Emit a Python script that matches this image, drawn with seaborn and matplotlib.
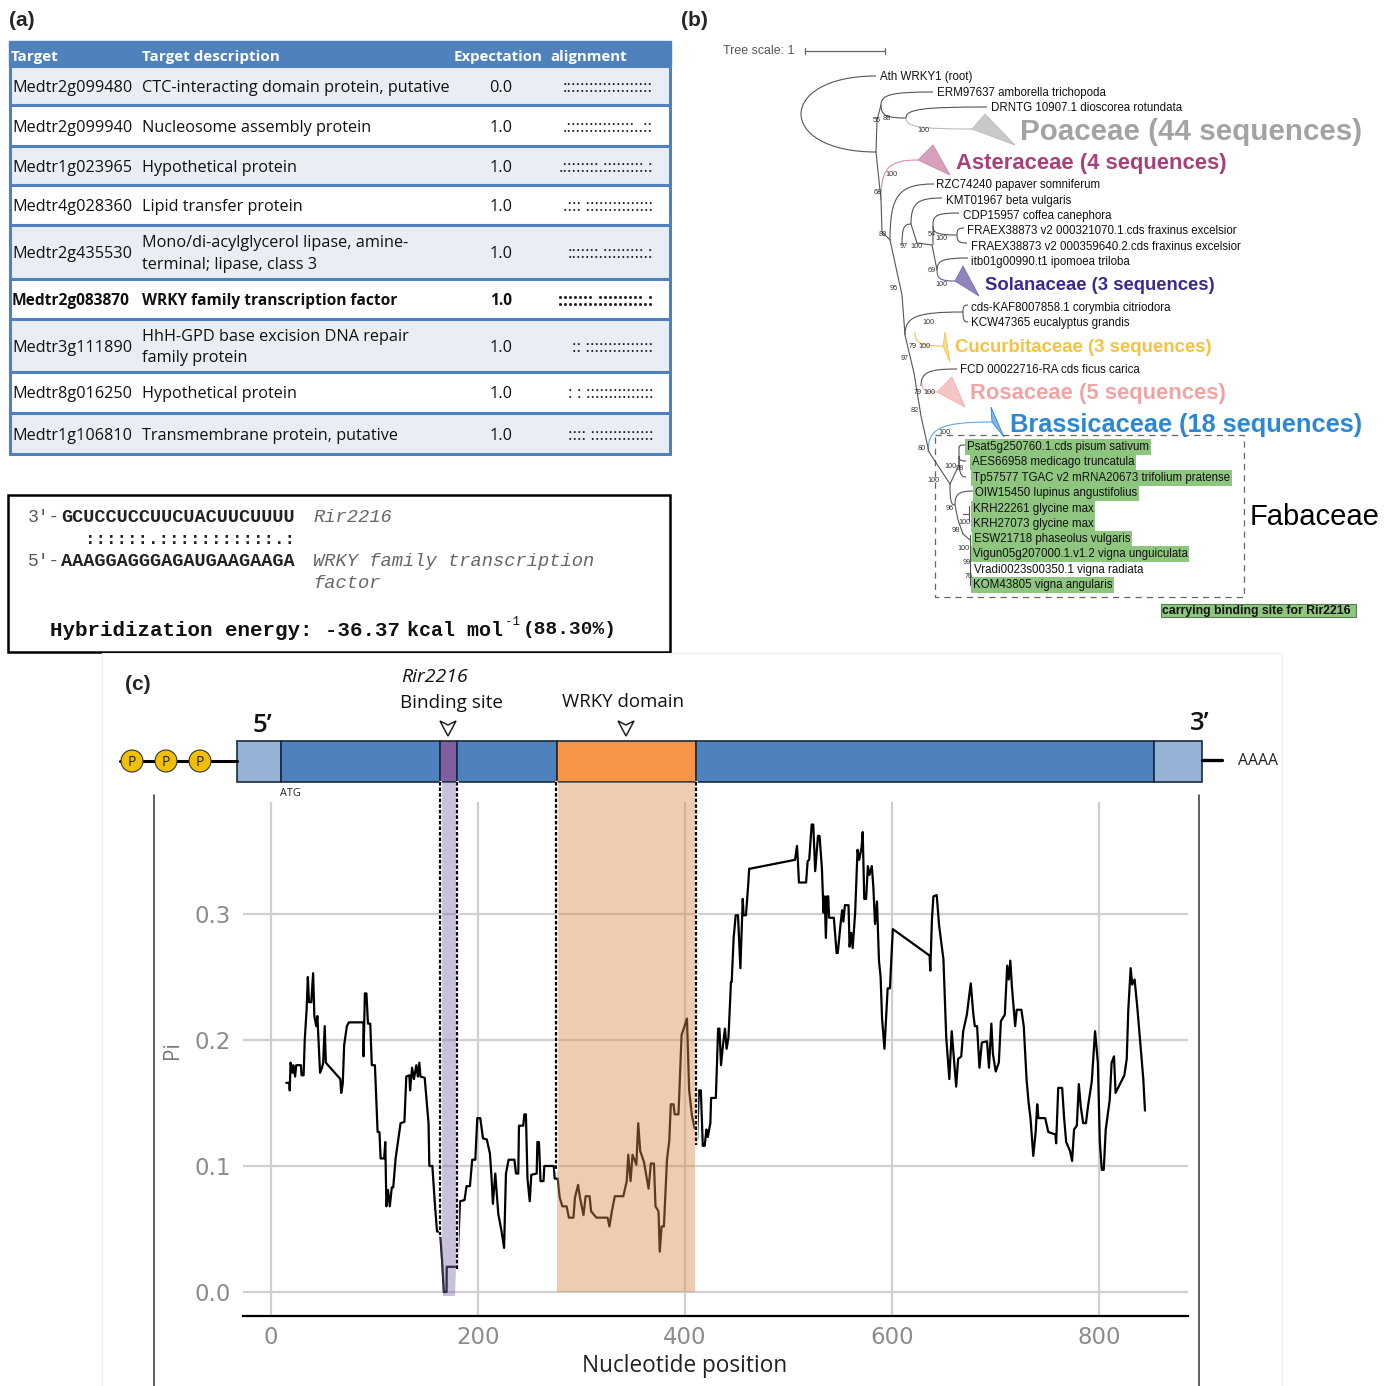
import numpy as np
import pandas as pd
import seaborn as sns
import matplotlib.pyplot as plt
from matplotlib.patches import Rectangle, Circle, Polygon, PathPatch
from matplotlib.path import Path

# table in panel (a)
targets = ['Medtr2g099480', 'Medtr2g099940', 'Medtr1g023965', 'Medtr4g028360', 'Medtr2g435530',
           'Medtr2g083870', 'Medtr3g111890', 'Medtr8g016250', 'Medtr1g106810']
descriptions = ['CTC-interacting domain protein, putative', 'Nucleosome assembly protein',
                'Hypothetical protein', 'Lipid transfer protein',
                'Mono/di-acylglycerol lipase, amine-\nterminal; lipase, class 3',
                'WRKY family transcription factor',
                'HhH-GPD base excision DNA repair\nfamily protein',
                'Hypothetical protein', 'Transmembrane protein, putative']
expectations = ['0.0', '1.0', '1.0', '1.0', '1.0', '1.0', '1.0', '1.0', '1.0']
alignments = ['::::::::::::::::::::', '.:::::::::::::::..::', '.::::::::.:::::::::.:', '.::: :::::::::::::::',
              ':::::::.:::::::::.:', ':::::::.:::::::::.:', ':: :::::::::::::::', ': : :::::::::::::::',
              ':::: ::::::::::::::']

# tree labels in panel (b)
tree_names = ['Ath WRKY1 (root)', 'ERM97637 amborella trichopoda', 'DRNTG 10907.1 dioscorea rotundata',
              'RZC74240 papaver somniferum', 'KMT01967 beta vulgaris', 'CDP15957 coffea canephora',
              'FRAEX38873 v2 000321070.1.cds fraxinus excelsior', 'FRAEX38873 v2 000359640.2.cds fraxinus excelsior',
              'itb01g00990.t1 ipomoea triloba', 'cds-KAF8007858.1 corymbia citriodora', 'KCW47365 eucalyptus grandis',
              'FCD 00022716-RA cds ficus carica']
fabaceae_names = ['Psat5g250760.1.cds pisum sativum', 'AES66958 medicago truncatula',
                  'Tp57577 TGAC v2 mRNA20673 trifolium pratense', 'OIW15450 lupinus angustifolius',
                  'KRH22261 glycine max', 'KRH27073 glycine max', 'ESW21718 phaseolus vulgaris',
                  'Vigun05g207000.1.v1.2 vigna unguiculata', 'Vradi0023s00350.1 vigna radiata',
                  'KOM43805 vigna angularis']
clades = ['Poaceae (44 sequences)', 'Asteraceae (4 sequences)', 'Solanaceae (3 sequences)',
          'Cucurbitaceae (3 sequences)', 'Rosaceae (5 sequences)', 'Brassicaceae (18 sequences)']

# nucleotide diversity curve in panel (c)
position = [14.8, 17.8, 18.1, 18.9, 20.7, 21.5, 23.3, 24.4, 28.9, 29.6, 31.5, 32.6, 34.4, 35.6, 36.7, 38.9, 40.7,
            41.9, 43.7, 44.8, 46.3, 47.4, 49.3, 50.4, 51.9, 53, 67, 67.8, 69.3, 70.7, 73.3, 75.2, 89.3, 89.4, 90.7,
            92.2, 93.7, 95.9, 97.4, 100.4, 103, 104.8, 105.9, 109.3, 110.4, 111.5, 113, 114.8, 116.7, 118.1, 120.4,
            125.2, 128.9, 130.7, 133.7, 134.4, 136.3, 138.1, 140.4, 141.9, 143.3, 144.4, 148.5, 152.2, 153, 155.9,
            158.5, 160.4, 163.3, 165.2, 167, 169.6, 169.8, 179.6, 180.7, 182.6, 187, 188.9, 192.2, 194.4, 197.4,
            199.3, 202.2, 204.8, 208.5, 211.5, 213, 214.4, 216.7, 219.6, 222.6, 225.2, 227, 229.6, 235.2, 236.7,
            238.9, 239.6, 243.7, 244.8, 246.3, 247.8, 250, 251.5, 256.7, 257.4, 258.9, 260.4, 263.3, 264.1, 273.3,
            274.1, 277, 278.9, 281.5, 285.6, 287.8, 292.2, 293.7, 296.7, 298.5, 301.9, 304, 307.8, 309.3, 314.4,
            325.2, 327, 329.3, 332.2, 340.4, 343.7, 345.2, 347.4, 349.3, 353, 354.8, 356.7, 360.4, 364.8, 367, 370,
            371.5, 374.4, 375.6, 377.4, 379.6, 382.6, 384.8, 386.3, 388.9, 390, 393.7, 396.7, 400.4, 401.9, 404,
            406.7, 409.3, 410.7, 411.5, 413.4, 415.3, 417.2, 419, 420.7, 422, 424.5, 425.2, 429.8, 432, 433.3, 434.8,
            436.7, 438.6, 440.2, 442, 444.4, 445.1, 447, 449, 451.2, 453.5, 455.8, 456.6, 458.9, 461.2, 462, 463.1,
            506.3, 508.2, 509, 510.1, 517, 518.5, 520, 522.4, 523.9, 525.8, 528.5, 530, 532.3, 533.8, 535, 536.1,
            537.3, 538.4, 539.2, 543.8, 546.5, 547.6, 550.3, 551.8, 553, 554.5, 558, 559, 560.6, 562, 564.4, 566.7,
            568.3, 570.6, 571.7, 573.2, 575, 576.7, 578.2, 580.5, 582, 583.6, 585.5, 587.4, 589, 590.4, 592.7, 595.8,
            598, 600.8, 636.3, 637, 638.6, 640, 643.2, 645.5, 649.7, 652.4, 655.4, 657.7, 662, 663.9, 666.9, 668.8,
            672.3, 676.1, 678.4, 680, 682.2, 684.5, 686.8, 691.8, 693.7, 696, 697.5, 700.2, 703.2, 705.2, 709, 711.3,
            712.8, 714.3, 715.9, 719, 720.5, 725, 727.3, 730, 731.9, 733.8, 736.5, 738.8, 740.3, 741.5, 748, 751,
            757.9, 758.6, 760.6, 764.4, 766.3, 768.3, 772, 774, 775.9, 778.6, 780.5, 782.4, 784.7, 787.4, 789.3, 793,
            796.2, 798.9, 800.8, 802.7, 804.6, 806.5, 810.3, 812.2, 814.5, 816, 824.5, 826.8, 828.3, 830.6, 832.1,
            834.4, 837, 840.1, 842.8, 844.4]
pi = [.166, .166, .160, .182, .174, .180, .171, .180, .180, .172, .172, .200, .224, .250, .230, .230, .253,
      .219, .211, .219, .193, .174, .178, .182, .211, .182, .169, .158, .165, .196, .211, .214, .214, .187, .237,
      .237, .213, .213, .180, .180, .127, .127, .106, .106, .119, .068, .081, .068, .083, .083, .106,
      .134, .135, .171, .172, .160, .178, .169, .180, .171, .182, .171, .170, .134, .100, .100,
      .068, .048, .048, .026, 0, 0, .020, .020, .033, .072, .073, .084, .084, .105, .105,
      .138, .138, .122, .121, .110, .092, .070, .094, .062, .049, .035, .094, .105, .105, .094,
      .094, .132, .132, .141, .141, .090, .072, .093, .094, .119, .119, .088, .088, .100, .100,
      .090, .090, .075, .068, .068, .059, .059, .075, .085, .075, .061, .076, .076, .064, .059,
      .059, .052, .064, .076, .076, .088, .109, .088, .109, .101, .134, .112, .103, .082, .102, .102,
      .068, .064, .032, .052, .052, .105, .120, .149, .149, .141, .141, .204, .213, .217, .160,
      .140, .130, .130, .118, .160, .160, .116, .116, .129, .123, .134, .154, .154, .209, .209, .180,
      .196, .209, .193, .202, .246, .246, .281, .299, .299, .257, .312, .299, .299, .325, .336, .336,
      .343, .354, .343, .325, .325, .342, .343, .371, .371, .334, .362, .362, .336, .301, .314, .281,
      .314, .314, .297, .297, .269, .269, .292, .303, .294, .307, .307, .274, .285, .273, .301, .351,
      .343, .353, .365, .312, .312, .338, .331, .338, .321, .292, .310, .263, .250, .217, .193, .241,
      .241, .288, .267, .255, .296, .314, .315, .291, .264, .202, .169, .207, .163, .185, .187, .207,
      .220, .245, .222, .211, .211, .178, .198, .199, .178, .213, .189, .175, .182, .215, .220, .259,
      .248, .263, .242, .211, .224, .224, .211, .169, .151, .138, .108, .127, .149, .138, .138, .127,
      .125, .118, .162, .162, .138, .119, .112, .104, .129, .132, .165, .147, .134, .134, .147, .167,
      .207, .182, .119, .097, .097, .129, .152, .182, .187, .158, .172, .185, .224, .257, .244,
      .248, .226, .196, .169, .144]
xticks = [0, 200, 400, 600, 800]
yticks = [0.0, 0.1, 0.2, 0.3]

W, H = 1396, 1386
BLUE = '#4F81BD'
LIGHTBLUE = '#95B3D7'
GREEN = '#8FC67F'
SANS = 'Liberation Sans'

sns.set_theme(style='whitegrid')
fig = plt.figure(figsize=(W / 100, H / 100), dpi=100, facecolor='white')

# overlay in pixel coordinates for everything that is not the plot
pg = fig.add_axes([0, 0, 1, 1], zorder=3)
pg.set_xlim(0, W)
pg.set_ylim(H, 0)
pg.axis('off')
pg.patch.set_alpha(0)


def branch(x0, y0, x1, y1, color='#555555', lw=0.8):
    verts = [(x0, y0), (x0, y0 + (y1 - y0) * 0.8), (x0 + (x1 - x0) * 0.2, y1), (x1, y1)]
    codes = [Path.MOVETO, Path.CURVE4, Path.CURVE4, Path.CURVE4]
    pg.add_patch(PathPatch(Path(verts, codes), fc='none', ec=color, lw=lw))


for lab, x, y in [('(a)', 9, 20), ('(b)', 681, 20)]:
    pg.text(x, y, lab, fontsize=15, fontweight='bold', family=SANS, va='center')
pg.text(125, 684, '(c)', fontsize=15, fontweight='bold', family=SANS, va='center')

# ---- panel a, table
row_edges = [66, 105, 146, 185, 225, 279, 319, 372, 413, 454]
text_font = 'Open Sans'
pg.add_patch(Rectangle((9, 41), 662, 25, fc=BLUE, ec=BLUE, lw=1))
for x, lab, fs in [(11, 'Target', 11), (142, 'Target description', 11), (454, 'Expectation', 10.8), (550, 'alignment', 10.8)]:
    pg.text(x, 57, lab, color='white', fontsize=fs, fontweight='bold', family=text_font, va='center')
for i in range(9):
    top, bot = row_edges[i], row_edges[i + 1]
    pg.add_patch(Rectangle((10, top), 660, bot - top, fc='#E9EDF4' if i % 2 == 0 else 'white', ec=BLUE, lw=2.2))
    cy = (top + bot) / 2 + 2
    wt = 'bold' if i == 5 else 'normal'
    fs = 11.2 if i == 5 else 11.7
    pg.text(12, cy, targets[i], fontsize=fs, fontweight=wt, family=text_font, va='center', color='#111111')
    pg.text(142, cy, descriptions[i], fontsize=fs, fontweight=wt, family=text_font, va='center', color='#111111',
            linespacing=1.45)
    pg.text(501, cy, expectations[i], fontsize=fs, fontweight=wt, family=text_font, va='center', ha='center',
            color='#111111')
    pg.text(653, cy, alignments[i], fontsize=12.6, fontweight=wt, family=text_font, va='center', ha='right',
            color='#222222')

# ---- panel a, hybridization box
MONO = 'Liberation Mono'
pg.add_patch(Rectangle((8, 495), 662, 157, fc='white', ec='black', lw=1.8))
pg.text(28, 518, "3'-", fontsize=13, family=MONO, va='center', color='#555555')
pg.text(61, 518, 'GCUCCUCCUUCUACUUCUUUU', fontsize=13.4, family=MONO, fontweight='bold', va='center', color='#222222')
pg.text(85, 539, '::::::.:::::::::::.:', fontsize=12.6, family=MONO, fontweight='bold', va='center', color='#222222')
pg.text(28, 561, "5'-", fontsize=13, family=MONO, va='center', color='#555555')
pg.text(61, 561, 'AAAGGAGGGAGAUGAAGAAGA', fontsize=13.4, family=MONO, fontweight='bold', va='center', color='#222222')
pg.text(313, 518, 'Rir2216', fontsize=13.5, family=MONO, style='italic', va='center', color='#666666')
pg.text(313, 561, 'WRKY family transcription', fontsize=13.5, family=MONO, style='italic', va='center', color='#666666')
pg.text(313, 584, 'factor', fontsize=13.5, family=MONO, style='italic', va='center', color='#666666')
pg.text(50, 630, 'Hybridization energy: -36.37', fontsize=15, family=MONO, fontweight='bold', va='center', color='#111111')
pg.text(407, 630, 'kcal mol', fontsize=14.4, family=MONO, fontweight='bold', va='center', color='#111111')
pg.text(505, 622, '-1', fontsize=9, family=MONO, va='center', color='#111111')
pg.text(523, 630, '(88.30%)', fontsize=14, family=MONO, fontweight='bold', va='center', color='#111111')

# ---- panel b, tree
pg.text(723, 51, 'Tree scale: 1', fontsize=8.9, family=SANS, va='center', color='#555555')
pg.plot([805, 885], [51, 51], color='#666666', lw=0.9)
for x in [805, 885]:
    pg.plot([x, x], [48, 54], color='#666666', lw=0.9)

tree_x = [880, 937, 991, 936, 946, 963, 967, 971, 971, 971, 971, 960]
tree_y = [77, 93, 108, 185, 201, 216, 231, 247, 262, 308, 323, 370]
for name, x, y in zip(tree_names, tree_x, tree_y):
    pg.text(x, y, name, fontsize=8.3, family=SANS, va='center', color='#111111')

fab_x = [967, 972, 973, 975, 973, 973, 974, 973, 974, 973]
fab_y = [447, 462, 478, 493, 509, 524, 539, 554, 570, 585]
for i, (name, x, y) in enumerate(zip(fabaceae_names, fab_x, fab_y)):
    box = None if 'Vradi' in name else dict(fc=GREEN, ec='none', pad=1.2)
    pg.text(x, y, name, fontsize=8.3, family=SANS, va='center', color='#111111', bbox=box)

clade_style = [(1020, 132, 21.3, '#A3A3A3'), (956, 163, 15.8, '#A8407A'), (985, 285, 13.35, '#3B2A8C'),
               (955, 348, 13.4, '#F5C242'), (970, 394, 15.85, '#F0A4A4'), (1010, 425, 18.3, '#2D88D2')]
for lab, (x, y, fs, col) in zip(clades, clade_style):
    pg.text(x, y, lab, fontsize=fs, family=SANS, fontweight='bold', va='center', color=col)

triangles = [([(972, 129), (985, 114), (1015, 145)], '#C9C9C9', '#BBBBBB'),
             ([(918, 160), (933, 145), (950, 175)], '#D6A0BC', '#C888A8'),
             ([(955, 281), (963, 266), (979, 296)], '#8F84BC', '#7C70AE'),
             ([(943, 346), (945, 332), (950, 362)], '#F9DD8C', '#F5C242'),
             ([(937, 392), (952, 377), (965, 407)], '#F5C4C4', '#F0B0B0'),
             ([(992, 422), (991, 407), (1004, 437)], '#7DB8E6', '#2D88D2')]
for pts, fc, ec in triangles:
    pg.add_patch(Polygon(pts, fc=fc, ec=ec, lw=0.6))

root_verts = [(876, 76), (776, 76), (776, 152), (876, 152)]
pg.add_patch(PathPatch(Path(root_verts, [Path.MOVETO, Path.CURVE4, Path.CURVE4, Path.CURVE4]), fc='none', ec='#555555', lw=0.8))
pg.plot([876, 877, 881], [152, 120, 105], color='#555555', lw=0.8)
branch(881, 105, 933, 92)
branch(881, 105, 906, 118)
branch(906, 118, 987, 107)
branch(906, 118, 972, 129, color='#BBBBBB')
pg.plot([876, 881, 882, 890], [152, 200, 232, 240], color='#555555', lw=0.8)
branch(881, 200, 918, 160, color='#D98DB3')
branch(890, 240, 934, 184)
pg.plot([890, 902, 905, 914, 921, 929, 950], [240, 295, 335, 373, 416, 452, 484], color='#555555', lw=0.8)
branch(902, 245, 911, 224)
branch(911, 224, 942, 198)
pg.plot([911, 917, 932], [224, 243, 245], color='#555555', lw=0.8)
branch(933, 245, 933, 224)
branch(933, 224, 959, 213)
branch(933, 226, 957, 235)
branch(957, 235, 964, 228)
branch(957, 235, 967, 243)
pg.plot([932, 937], [245, 270], color='#555555', lw=0.8)
branch(937, 270, 968, 258)
branch(937, 270, 955, 281, color='#6A5CA8')
branch(905, 335, 963, 312)
branch(963, 312, 968, 305)
branch(963, 312, 968, 322)
branch(915, 332, 943, 346, color='#F5C242')
branch(921, 386, 957, 369)
branch(922, 383, 937, 392, color='#F0B0B0')
branch(928, 452, 992, 422, color='#5AA8E0')
pg.plot([950, 959, 959], [484, 465, 448], color='#555555', lw=0.8)
branch(959, 448, 965, 445)
branch(959, 456, 966, 461)
branch(959, 456, 966, 477)
branch(950, 484, 955, 505)
branch(955, 505, 974, 491)
pg.plot([955, 958, 963], [505, 520, 534], color='#555555', lw=0.8)
pg.plot([969, 969], [506, 521], color='#555555', lw=0.8)
pg.plot([963, 969], [514, 514], color='#555555', lw=0.8)
pg.plot([970, 970], [535, 585], color='#555555', lw=0.8)
pg.plot([963, 970], [534, 540], color='#555555', lw=0.8)

boot_vals = ['100', '88', '55', '100', '68', '88', '97', '100', '54', '100', '69', '100', '95', '100', '79', '100',
             '97', '79', '100', '82', '100', '80', '100', '98', '100', '96', '98', '100', '100', '99', '76']
boot_x = [923, 887, 877, 891, 878, 883, 904, 916, 932, 941, 932, 941, 894, 928, 913, 924,
          905, 918, 929, 915, 944, 922, 950, 960, 933, 950, 956, 964, 963, 967, 969]
boot_y = [131, 119, 121, 175, 193, 235, 246, 246, 235, 239, 270, 285, 289, 323, 346, 346,
          359, 393, 393, 410, 433, 448, 467, 469, 480, 508, 530, 522, 549, 563, 577]
for v, x, y in zip(boot_vals, boot_x, boot_y):
    pg.text(x, y, v, fontsize=5.2, family=SANS, ha='center', va='center', color='#333333')

pg.add_patch(Rectangle((935, 435), 309, 162, fc='none', ec='#666666', lw=0.9, ls=(0, (5, 4))))
pg.text(1250, 517, 'Fabaceae', fontsize=21, family=SANS, va='center', color='black')
pg.add_patch(Rectangle((1161, 604), 195, 13, fc=GREEN, ec='#557F50', lw=0.8))
pg.text(1162, 611, 'carrying binding site for Rir2216', fontsize=8.8, family=SANS, fontweight='bold', va='center',
        color='#111111')

# ---- panel c, gene model
pg.add_patch(Rectangle((102, 653), 1180, 740, fc='none', ec='#EDEDED', lw=0.8))
for seg_x0, seg_x1, col in [(237, 281, LIGHTBLUE), (281, 440, BLUE), (440, 457, '#7F5FA0'), (457, 557, BLUE),
                            (557, 696, '#F79646'), (696, 1154, BLUE), (1154, 1202, LIGHTBLUE)]:
    pg.add_patch(Rectangle((seg_x0, 741), seg_x1 - seg_x0, 41, fc=col, ec='#1A2A3A', lw=1.2))
pg.plot([120, 237], [761, 761], color='black', lw=2.2, zorder=1)
pg.plot([1202, 1222], [760, 760], color='black', lw=2.4)
for x in [132, 166, 200]:
    pg.add_patch(Circle((x, 761), 11, fc='#F0C000', ec='#333333', lw=0.8, zorder=2))
    pg.text(x, 762, 'P', fontsize=10, family='Open Sans', ha='center', va='center', color='#222222', zorder=3)
pg.text(1238, 761, 'AAAA', fontsize=11.3, family='Open Sans', va='center', color='#222222')
pg.text(280, 794, 'ATG', fontsize=7.8, family='Open Sans', va='center', color='#222222')
pg.text(262, 725, "5’", fontsize=18.5, family='Open Sans', fontweight='semibold', ha='center', va='center', color='#111111')
pg.text(1200, 723, "3’", fontsize=18.5, family='Open Sans', fontweight='semibold', ha='center', va='center', color='#111111')
pg.text(435, 677, 'Rir2216', fontsize=14, family='Open Sans', style='italic', ha='center', va='center', color='#111111')
pg.text(452, 703, 'Binding site', fontsize=13.6, family='Open Sans', ha='center', va='center', color='#111111')
pg.text(623, 702, 'WRKY domain', fontsize=13.4, family='Open Sans', ha='center', va='center', color='#111111')
for x in [448, 626]:
    pg.add_patch(Polygon([(x - 8, 721), (x, 725), (x + 8, 721), (x, 736)], fc='white', ec='#222222', lw=1.1))

# shades and dashed guides over the curve
pg.add_patch(Polygon([(440, 782), (457, 782), (457, 1240), (455, 1296), (443, 1296), (440, 1240)],
                     fc='#7F6BA8', ec='none', alpha=0.42))
pg.add_patch(Rectangle((557, 782), 138, 510, fc='#D98A4A', ec='none', alpha=0.43))
for x, y_end in [(440, 1235), (457, 1270), (556, 1170), (696, 1145)]:
    pg.plot([x, x], [782, y_end], color='white', lw=2.4, alpha=0.9)
    pg.plot([x, x], [782, y_end], color='black', lw=1.6, ls=(0, (1.6, 0.9)))
for x in [154, 1199]:
    pg.plot([x, x], [795, H], color='#333333', lw=1.1)

# ---- panel c, diversity plot
px_per_x = 1.035
px_per_y = 1260
x_left = (243 - 271) / px_per_x
x_right = (1188 - 271) / px_per_x
y_bottom = (1292 - 1316) / px_per_y
y_top = (1292 - 802) / px_per_y
ax = fig.add_axes([243 / W, 1 - 1316 / H, (1188 - 243) / W, (1316 - 802) / H], zorder=1)
ax.patch.set_alpha(0)

df = pd.DataFrame({'position': position, 'pi': pi})
sns.lineplot(data=df, x='position', y='pi', sort=False, estimator=None, color='black', lw=1.6, ax=ax, zorder=3)
ax.set_xlim(x_left, x_right)
ax.set_ylim(y_bottom, y_top)
ax.set_xticks(xticks)
ax.set_yticks(yticks)
ax.set_yticklabels(['0.0', '0.1', '0.2', '0.3'])
ax.grid(True, color='#CFCFCF', lw=1.6)
ax.tick_params(axis='y', length=0, labelsize=16.5, labelcolor='#8C8C8C', pad=9)
ax.tick_params(axis='x', length=0, labelsize=16.5, labelcolor='#8C8C8C', pad=7)
sns.despine(ax=ax, left=True, top=True, right=True)
ax.spines['bottom'].set_color('black')
ax.spines['bottom'].set_linewidth(1.6)
ax.set_xlabel('Nucleotide position', fontsize=16.3, family='Open Sans', color='#222222')
ax.xaxis.set_label_coords((685 - 243) / (1188 - 243), -0.0)
ax.xaxis.label.set_verticalalignment('center')
ax.xaxis.set_label_coords((685 - 243) / (1188 - 243), (1316 - 1366) / (1316 - 802))
ax.set_ylabel('Pi', fontsize=15, family='Open Sans', color='#777777')
ax.yaxis.set_label_coords((183 - 243) / (1188 - 243), (1316 - 1050) / (1316 - 802))

fig.savefig('out.png', dpi=100)
